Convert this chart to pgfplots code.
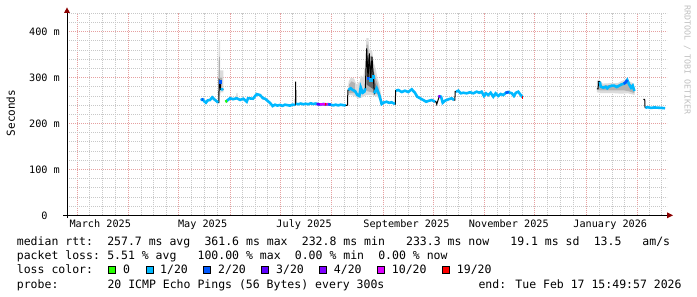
\documentclass[border=0pt]{standalone}
\usepackage{pgfplots}
\pgfplotsset{compat=1.18}
\usepackage{pgfplotstable}
\usepackage{fontspec}
\newfontfamily\mono{DejaVu Sans Mono}
\definecolor{lossA}{HTML}{26FF00}
\definecolor{lossB}{HTML}{00B8FF}
\definecolor{lossC}{HTML}{0059FF}
\definecolor{lossD}{HTML}{5E00FF}
\definecolor{lossE}{HTML}{7E00FF}
\definecolor{lossF}{HTML}{DD00FF}
\definecolor{lossG}{HTML}{FF0000}
\definecolor{mgrid}{HTML}{E6A0A0}
\definecolor{sgrid}{HTML}{C8C8C8}
\definecolor{arrowred}{HTML}{8B0000}

% day = days since 2025-01-01 ; value = median rtt in ms
\pgfplotstableread{
x y c
133.35 251.2 251.2
134.6 252.7 252.7
135.5 248.4 248.4
136.5 245.3 245.3
137.6 250.5 250.5
138.9 251.2 251.2
140.3 257.0 257.0
141.5 252.7 252.7
143.0 248.4 248.4
143.8 245.3 245.3
144.3 245.3 nan
144.4 294.8 nan
145.0 291.0 nan
145.3 274.5 274.5
147.0 274.5 274.5
147.6 nan nan
148.4 247.5 247.5
151.0 255.0 255.0
152.8 253.0 253.0
155.0 255.0 255.0
157.0 251.5 251.5
159.0 254.0 254.0
161.0 247.5 247.5
161.8 255.0 255.0
164.8 254.0 254.0
167.0 264.0 264.0
169.0 262.0 262.0
170.8 255.0 255.0
172.0 254.0 254.0
173.0 251.0 251.0
175.0 245.0 245.0
176.6 238.0 238.0
178.0 241.0 241.0
179.5 239.0 239.0
181.0 240.5 240.5
182.5 238.5 238.5
184.0 241.0 241.0
185.5 240.0 240.0
187.0 239.0 239.0
188.5 241.0 241.0
190.0 240.5 240.5
190.3 240.5 nan
190.4 291.0 nan
190.6 243.0 243.0
192.0 242.0 242.0
193.5 243.5 243.5
195.0 242.0 242.0
196.5 243.0 243.0
198.0 242.0 242.0
199.5 244.0 244.0
201.0 242.5 242.5
202.5 243.5 243.5
204.0 242.0 242.0
205.5 241.0 241.0
207.0 242.5 242.5
208.5 241.0 241.0
210.0 242.0 242.0
211.5 241.0 241.0
213.0 239.5 239.5
214.5 241.0 241.0
216.0 239.5 239.5
217.5 241.0 241.0
219.0 240.0 240.0
220.5 239.5 239.5
221.6 240.0 nan
221.8 273.0 nan
222.1 273.0 273.0
223.5 276.7 276.7
224.7 273.0 273.0
226.1 270.8 270.8
227.5 262.0 262.0
228.7 260.0 260.0
229.5 278.9 278.9
230.7 267.0 267.0
231.7 269.3 269.3
232.3 276.7 276.7
233.1 363.8 nan
233.9 298.5 nan
234.7 353.0 nan
235.5 296.0 nan
236.3 345.5 nan
237.1 302.0 nan
237.7 265.8 265.8
239.1 276.7 276.7
240.7 262.0 262.0
242.1 242.5 242.5
243.1 245.3 245.3
245.1 247.5 247.5
246.6 245.0 245.0
248.1 246.2 246.2
250.1 242.5 242.5
250.3 242.5 nan
250.5 271.5 nan
250.7 271.5 271.5
252.1 273.0 273.0
254.2 268.6 268.6
256.1 271.5 271.5
258.1 268.6 268.6
260.2 274.5 274.5
262.1 267.0 267.0
263.5 258.4 258.4
265.2 254.9 254.9
267.1 251.2 251.2
268.8 247.5 247.5
270.7 249.7 249.7
272.2 251.2 251.2
274.2 247.5 247.5
274.7 247.5 nan
275.2 241.8 nan
276.8 260.0 260.0
277.8 258.4 258.4
278.8 245.3 245.3
280.2 249.7 249.7
282.2 252.7 252.7
284.2 254.9 254.9
285.6 251.2 251.2
286.1 251.2 nan
286.3 269.3 nan
286.8 269.3 269.3
288.2 271.5 271.5
289.6 265.8 265.8
291.2 267.0 267.0
293.2 265.8 265.8
295.2 268.0 268.0
297.2 265.8 265.8
299.2 269.3 269.3
300.8 267.0 267.0
302.2 269.3 269.3
303.6 260.0 260.0
304.8 265.8 265.8
306.2 262.0 262.0
307.6 267.0 267.0
309.2 258.4 258.4
310.6 265.8 265.8
312.2 260.0 260.0
313.6 264.3 264.3
315.2 262.0 262.0
316.8 267.0 267.0
318.2 268.6 268.6
320.3 265.8 265.8
321.6 260.0 260.0
322.8 267.0 267.0
324.2 269.3 269.3
325.7 262.0 262.0
326.9 257.0 257.0
327.5 nan nan
371.4 275.2 275.2
372.2 275.2 nan
372.4 291.0 nan
373.2 291.0 291.0
373.8 280.2 280.2
375.3 278.0 278.0
376.8 280.2 280.2
377.7 276.7 276.7
378.7 280.2 280.2
380.4 282.4 282.4
381.9 282.4 282.4
383.4 279.5 279.5
384.8 282.4 282.4
386.4 285.4 285.4
387.8 286.7 286.7
388.8 289.8 289.8
389.7 294.8 294.8
390.8 285.4 285.4
392.0 278.0 278.0
393.0 282.4 282.4
394.0 270.8 270.8
396.0 nan nan
399.4 252.7 252.7
400.2 252.7 nan
400.4 234.4 nan
400.6 234.4 234.4
402.0 235.5 235.5
404.0 234.0 234.0
406.0 235.0 235.0
408.0 234.5 234.5
410.0 234.0 234.0
412.4 233.3 233.3
}\median

\newcommand\lgtext[3]{\node[anchor=base west, inner sep=0pt, font=\mono\fontsize{11.5bp}{13bp}\selectfont] at (#1bp,#2bp) {#3};}
\newcommand\lgbox[2]{\filldraw[fill=#2, draw=black, line width=0.9bp] (#1bp-3.5bp,23.3bp) rectangle (#1bp+3.5bp,30.3bp);}

\begin{document}
\begin{tikzpicture}
\useasboundingbox (0,0) rectangle (697bp,297bp);
\begin{axis}[
  at={(67bp,81.7bp)}, anchor=south west, scale only axis,
  width=600bp, height=202.4bp,
  xmin=53, xmax=413.6, ymin=0, ymax=441,
  axis line style={draw=none},
  xtick={59,90,120,151,181,212,243,273,304,334,365,396},
  xticklabels={},
  minor xtick={66.75,74.5,82.25,97.5,105,112.5,127.75,135.5,143.25,158.5,166,173.5,188.75,196.5,204.25,219.75,227.5,235.25,250.5,258,265.5,280.75,288.5,296.25,311.5,319,326.5,341.75,349.5,357.25,372.75,380.5,388.25,403,410},
  ytick={0,100,200,300,400},
  yticklabels={0,100 m,200 m,300 m,400 m},
  minor ytick={20,40,60,80,120,140,160,180,220,240,260,280,320,340,360,380,420,440},
  grid=both,
  major grid style={mgrid, line width=0.8bp, dash pattern=on 1bp off 1bp},
  minor grid style={sgrid, line width=0.8bp, dash pattern=on 1bp off 1bp},
  major tick length=0pt, minor tick length=0pt,
  extra x ticks={73,134.5,195.5,257,318.5,379.5},
  extra x tick labels={March 2025,May 2025,July 2025,September 2025,November 2025,January 2026},
  extra x tick style={grid=none},
  xticklabel style={font=\mono\fontsize{10.2bp}{12bp}\selectfont, anchor=base, inner sep=0pt, yshift=-12.7bp},
  yticklabel style={font=\mono\fontsize{10.2bp}{12bp}\selectfont, anchor=center, inner sep=0pt, xshift=-22.5bp},
  unbounded coords=jump,
]
% smoke (percentile spread), light to dark
\addplot[fill=gray!28, draw=none, forget plot] coordinates {(144.0,246) (144.0,330) (144.3,383) (145.0,383) (145.0,316) (147.0,316) (147.0,268) (145.3,268) (144.6,246)};
\addplot[fill=gray!65, draw=none, forget plot] coordinates {(144.1,260) (144.1,300) (144.4,345) (144.9,345) (144.9,300) (146.2,300) (146.2,278) (144.9,278) (144.6,260)};
\addplot[fill=gray!28, draw=none, forget plot] coordinates {(154.5,255) (154.8,266) (155.5,266) (155.8,255)};
\addplot[fill=gray!28, draw=none, forget plot] coordinates {(221.9,262) (222.2,290) (223.5,300) (225.5,298) (227,285) (229,292) (229.6,305) (231,300) (232.5,335) (232.9,386) (234.2,386) (234.6,362) (236.4,358) (237.2,335) (238.6,318) (239.6,298) (240.8,285) (241.8,262) (242.4,250) (242.4,240) (240.8,252) (239.5,258) (238,260) (236.5,262) (234.5,262) (233,262) (231,258) (229.5,256) (228,254) (226.5,258) (224,262) (222,262)};
\addplot[fill=gray!60, draw=none, forget plot] coordinates {(222.2,266) (222.5,285) (224,292) (226,288) (226,266)};
\addplot[fill=gray!60, draw=none, forget plot] coordinates {(232.6,300) (233.0,372) (234.0,372) (234.4,345) (236.2,348) (237.0,320) (238.5,300) (239.8,285) (240.8,268) (240.8,258) (239.5,264) (238,266) (236,268) (234,270) (232.6,272)};
\addplot[fill=black!60, draw=none, forget plot] coordinates {(233.0,340) (234.0,345) (235.5,330) (236.5,330) (237.5,300) (238.5,285) (238.5,270) (237,275) (235,280) (233,285)};
\addplot[fill=gray!28, draw=none, forget plot] coordinates {(371.5,292) (372.5,296) (375,287) (380,288) (384,288) (386,292) (388.5,296) (389.5,299) (391,292) (393,288) (394.2,276) (394.2,262) (392,264) (390,266) (386,265) (382,266) (378,266) (374,266) (371.5,268)};
\addplot[fill=gray!60, draw=none, forget plot] coordinates {(372.5,285) (374,282) (380,284) (384,284) (387,288) (389.5,294) (391,286) (393,284) (394,272) (394,266) (391,270) (388,272) (384,272) (380,272) (376,272) (372.5,272)};
% median: black thin line, loss-coloured thick line
\addplot[black, line width=1bp, forget plot] table[x=x, y=y] {\median};
\addplot[lossB, line width=2.6bp, forget plot] table[x=x, y=c] {\median};
% other loss colours
\addplot[lossC, line width=2.6bp, forget plot] coordinates {(133.9,252) (134.9,252.5)};
\addplot[lossC, only marks, mark=square*, mark size=1.3bp, forget plot] coordinates {(145.0,291) (233.9,298.5)};
\addplot[lossB, only marks, mark=square*, mark size=1.3bp, forget plot] coordinates {(235.5,296) (237.1,302)};
\addplot[lossA, line width=2.6bp, forget plot] coordinates {(148.2,247.5) (149.2,249)};
\addplot[lossD, line width=2.6bp, forget plot] coordinates {(203.0,242.5) (205.0,241.5)};
\addplot[lossF, line width=2.6bp, forget plot] coordinates {(205.0,241.5) (208.0,242)};
\addplot[lossG, line width=2.6bp, forget plot] coordinates {(208.0,242) (209.0,241.5)};
\addplot[lossF, line width=2.6bp, forget plot] coordinates {(209.0,241.5) (210.0,242)};
\addplot[lossC, line width=2.6bp, forget plot] coordinates {(210.0,242) (211.5,241)};
\addplot[lossE, line width=2.6bp, forget plot] coordinates {(276.3,258) (277.3,260)};
\addplot[lossC, line width=2.6bp, forget plot] coordinates {(316.5,266.5) (318.5,268.6)};
\addplot[lossC, line width=2.6bp, forget plot] coordinates {(387.6,286.5) (388.8,289.8) (389.7,294.8)};
\addplot[lossG, line width=2.6bp, forget plot] coordinates {(326.5,257) (327.2,257)};
\end{axis}
% axes with arrow heads
\draw[line width=1bp] (67bp,79bp) -- (67bp,284bp);
\draw[line width=1bp] (63bp,81.7bp) -- (667bp,81.7bp);
\fill[arrowred] (64bp,284bp) -- (70bp,284bp) -- (67bp,289.5bp) -- cycle;
\fill[arrowred] (667bp,78.7bp) -- (667bp,84.7bp) -- (673bp,81.7bp) -- cycle;
% axis title and credit
\node[rotate=90, inner sep=0pt, font=\mono\fontsize{11bp}{13bp}\selectfont] at (10.8bp,184bp) {Seconds};
\node[rotate=-90, inner sep=0pt, font=\mono\fontsize{8.3bp}{9bp}\selectfont, text=black!25] at (687.3bp,237bp) {RRDTOOL / TOBI OETIKER};
% legend rows
\lgtext{16.7}{51.8}{median rtt:}
\lgtext{107.05}{51.8}{257.7 ms avg}
\lgtext{204.35}{51.8}{361.6 ms max}
\lgtext{301.65}{51.8}{232.8 ms min}
\lgtext{405.9}{51.8}{233.3 ms now}
\lgtext{510.15}{51.8}{19.1 ms sd}
\lgtext{593.55}{51.8}{13.5}
\lgtext{642.2}{51.8}{am/s}
\lgtext{16.7}{37.5}{packet loss:}
\lgtext{107.05}{37.5}{5.51 \% avg}
\lgtext{197.4}{37.5}{100.00 \% max}
\lgtext{294.7}{37.5}{0.00 \% min}
\lgtext{378.1}{37.5}{0.00 \% now}
\lgtext{16.7}{23.2}{loss color:}
\lgbox{112}{lossA}\lgtext{123}{23.2}{0}
\lgbox{149.5}{lossB}\lgtext{160}{23.2}{1/20}
\lgbox{207}{lossC}\lgtext{218}{23.2}{2/20}
\lgbox{264.5}{lossD}\lgtext{276}{23.2}{3/20}
\lgbox{322.5}{lossE}\lgtext{333.7}{23.2}{4/20}
\lgbox{381.3}{lossF}\lgtext{391.7}{23.2}{10/20}
\lgbox{446}{lossG}\lgtext{456.7}{23.2}{19/20}
\lgtext{16.7}{8.9}{probe:}
\lgtext{107.3}{8.9}{20 ICMP Echo Pings (56 Bytes) every 300s}
\lgtext{478.3}{8.9}{end: Tue Feb 17 15:49:57 2026}
\end{tikzpicture}
\end{document}
